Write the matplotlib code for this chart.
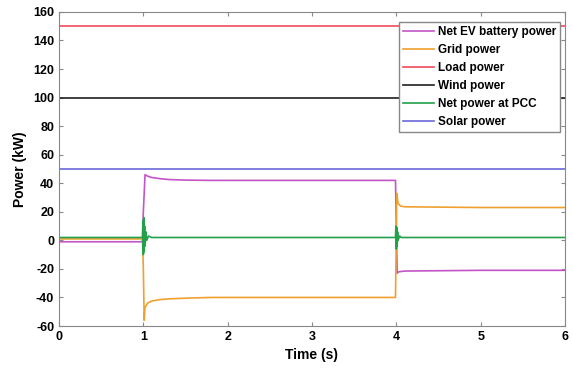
import matplotlib
matplotlib.use("Agg")
import matplotlib.pyplot as plt
import numpy as np

plt.rcParams['font.family'] = ['Liberation Sans', 'DejaVu Sans']
plt.rcParams['font.weight'] = 'bold'
plt.rcParams['axes.unicode_minus'] = False

# Data (time in s, power in kW)
t_ev = [0, 0.99, 1.0, 1.02, 1.05, 1.1, 1.2, 1.3, 1.5, 1.8, 2.5, 3.99, 4.0, 4.01, 4.03, 4.1, 5.0, 6.0]
p_ev = [-1, -1, 20, 46, 45, 44, 43.2, 42.6, 42.2, 42, 42, 42, 10, -23, -22, -21.5, -21, -21]

t_grid = [0, 0.99, 1.0, 1.01, 1.02, 1.05, 1.1, 1.2, 1.3, 1.5, 1.8, 2.5, 3.99, 4.0, 4.005, 4.02, 4.05, 4.1, 5.0, 6.0]
p_grid = [1, 1, -20, -56, -47, -44, -42.5, -41.5, -41, -40.5, -40, -40, -40, 5, 33, 26, 24, 23.5, 23, 23]

t_pcc = [0, 0.99, 0.995, 1.0, 1.005, 1.01, 1.015, 1.02, 1.03, 1.04, 1.06, 1.1, 3.99, 3.995, 4.0, 4.005, 4.01, 4.015, 4.02, 4.04, 4.06, 6.0]
p_pcc = [2, 2, 14, -10, 16, -8, 10, -4, 6, 0, 3, 2, 2, 10, -6, 9, -4, 6, 0, 3, 2, 2]

t_const = [0, 6]
p_load = [150, 150]
p_wind = [100, 100]
p_solar = [50, 50]

labels = ['Net EV battery power', 'Grid power', 'Load power', 'Wind power', 'Net power at PCC', 'Solar power']
colors = ['#c455c8', '#f0a030', '#f04a5a', '#202020', '#22a04a', '#6a6ad8']

fig = plt.figure(figsize=(5.73, 3.73), dpi=100)
ax = fig.add_axes([0.103, 0.126, 0.883, 0.842])

ax.plot(t_ev, p_ev, color=colors[0], lw=1.2, label=labels[0])
ax.plot(t_grid, p_grid, color=colors[1], lw=1.2, label=labels[1])
ax.plot(t_const, p_load, color=colors[2], lw=1.2, label=labels[2])
ax.plot(t_const, p_wind, color=colors[3], lw=1.2, label=labels[3])
ax.plot(t_pcc, p_pcc, color=colors[4], lw=1.2, label=labels[4])
ax.plot(t_const, p_solar, color=colors[5], lw=1.2, label=labels[5])

ax.set_xlim(0, 6)
ax.set_ylim(-60, 160)
ax.set_xticks(range(0, 7))
ax.set_yticks(range(-60, 161, 20))
ax.tick_params(labelsize=9, direction='in', length=3, color='#888888',
               top=True, right=True)
for lab in ax.get_xticklabels() + ax.get_yticklabels():
    lab.set_fontweight('bold')
for s in ax.spines.values():
    s.set_color('#888888')
ax.set_xlabel('Time (s)', fontsize=10, fontweight='bold')
ax.set_ylabel('Power (kW)', fontsize=10, fontweight='bold')

leg = ax.legend(loc='upper right', bbox_to_anchor=(0.99, 0.968), fontsize=8.5,
                handlelength=2.6, handletextpad=0.3, labelspacing=0.5,
                borderpad=0.35, borderaxespad=0, fancybox=False, framealpha=1,
                edgecolor='#888888')
for txt in leg.get_texts():
    txt.set_fontweight('bold')

fig.savefig('out.png', dpi=100)
